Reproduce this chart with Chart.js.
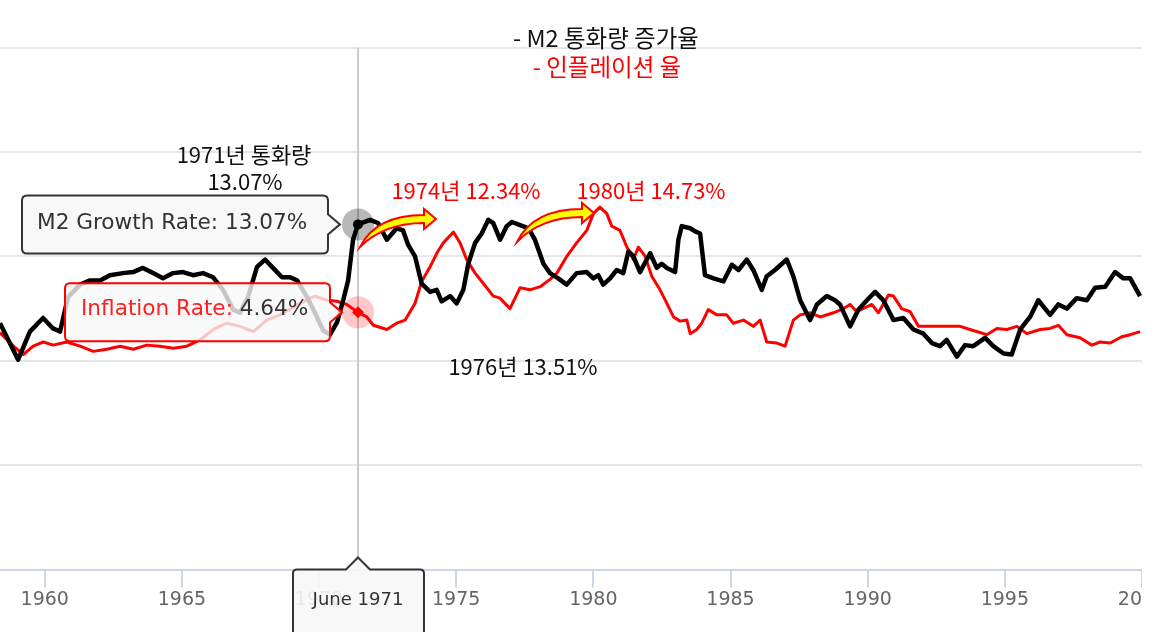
<!DOCTYPE html>
<html>
<head>
<meta charset="utf-8">
<script src="https://cdn.jsdelivr.net/npm/chart.js@4"></script>
<style>
html, body { margin: 0; padding: 0; background: #fff; overflow: hidden; }
#wrap { position: relative; width: 1142px; height: 632px; }
</style>
</head>
<body>
<div id="wrap"><canvas id="myChart"></canvas></div>
<script>
// M2 money supply growth, % year over year
var m2Years = [1958.37, 1959.03, 1959.46, 1959.94, 1960.30, 1960.56, 1960.85, 1961.29, 1961.65, 1962.02,
    1962.38, 1962.85, 1963.22, 1963.58, 1963.95, 1964.31, 1964.68, 1965.04, 1965.41, 1965.77,
    1966.14, 1966.50, 1966.87, 1967.12, 1967.41, 1967.74, 1968.03, 1968.32, 1968.65, 1968.94,
    1969.20, 1969.56, 1969.85, 1970.15, 1970.40, 1970.66, 1970.88, 1971.06, 1971.24, 1971.42,
    1971.86, 1972.15, 1972.47, 1972.83, 1973.06, 1973.25, 1973.50, 1973.74, 1974.05, 1974.29,
    1974.47, 1974.78, 1975.02, 1975.26, 1975.44, 1975.69, 1975.93, 1976.17, 1976.35, 1976.60,
    1976.84, 1977.03, 1977.33, 1977.63, 1977.87, 1978.18, 1978.42, 1978.72, 1979.03, 1979.39,
    1979.76, 1980.00, 1980.18, 1980.36, 1980.61, 1980.85, 1981.09, 1981.28, 1981.46, 1981.70,
    1982.07, 1982.31, 1982.49, 1982.68, 1982.98, 1983.10, 1983.22, 1983.53, 1983.71, 1983.89,
    1984.07, 1984.38, 1984.74, 1985.05, 1985.29, 1985.59, 1985.83, 1986.14, 1986.32, 1986.62,
    1987.05, 1987.29, 1987.54, 1987.90, 1988.15, 1988.51, 1988.81, 1988.99, 1989.36, 1989.66,
    1989.97, 1990.27, 1990.57, 1990.94, 1991.30, 1991.67, 1992.03, 1992.34, 1992.64, 1992.88,
    1993.25, 1993.55, 1993.85, 1994.28, 1994.58, 1994.95, 1995.25, 1995.56, 1995.92, 1996.22,
    1996.65, 1996.95, 1997.26, 1997.62, 1997.99, 1998.29, 1998.66, 1999.02, 1999.32, 1999.57,
    1999.93];
var m2Rates = [3.6, 0.1, 2.8, 4.1, 3.1, 2.8, 6.1, 7.3, 7.7, 7.7,
    8.2, 8.4, 8.5, 8.9, 8.4, 7.9, 8.4, 8.5, 8.2, 8.4,
    8.0, 6.8, 4.9, 4.6, 6.1, 9.0, 9.7, 8.9, 8.0, 8.0,
    7.7, 6.1, 4.6, 2.9, 2.5, 3.7, 5.8, 7.7, 11.6, 13.07,
    13.5, 13.2, 11.6, 12.7, 12.5, 11.1, 10.0, 7.4, 6.6, 6.8,
    5.7, 6.2, 5.5, 6.8, 9.3, 11.3, 12.2, 13.51, 13.2, 11.6,
    12.9, 13.3, 13.0, 12.7, 11.6, 9.3, 8.4, 7.9, 7.3, 8.4,
    8.5, 7.9, 8.2, 7.3, 7.9, 8.7, 8.4, 10.5, 10.0, 8.5,
    10.3, 8.9, 9.3, 8.9, 8.5, 11.6, 12.9, 12.7, 12.4, 12.2,
    8.2, 7.9, 7.6, 9.2, 8.7, 9.7, 8.7, 6.8, 8.1, 8.7,
    9.7, 8.1, 5.8, 3.9, 5.4, 6.2, 5.8, 5.4, 3.3, 4.9,
    5.8, 6.6, 5.8, 3.9, 4.1, 3.0, 2.6, 1.7, 1.4, 2.0,
    0.4, 1.5, 1.4, 2.2, 1.4, 0.7, 0.6, 3.0, 4.2, 5.8,
    4.4, 5.4, 5.0, 6.0, 5.8, 7.0, 7.1, 8.5, 7.9, 7.9,
    6.2];

// CPI inflation, % year over year
var cpiYears = [1958.37, 1958.86, 1959.22, 1959.58, 1959.95, 1960.31, 1960.80, 1961.29, 1961.77, 1962.26,
    1962.75, 1963.23, 1963.72, 1964.20, 1964.69, 1965.18, 1965.66, 1966.15, 1966.64, 1967.12,
    1967.61, 1968.09, 1968.58, 1969.31, 1969.85, 1970.28, 1970.65, 1971.01, 1971.42, 1971.74,
    1971.98, 1972.47, 1972.83, 1973.14, 1973.50, 1973.74, 1974.05, 1974.29, 1974.53, 1974.90,
    1975.14, 1975.38, 1975.69, 1975.99, 1976.35, 1976.60, 1976.96, 1977.33, 1977.69, 1978.06,
    1978.42, 1978.67, 1979.03, 1979.39, 1979.76, 1980.00, 1980.24, 1980.49, 1980.67, 1980.97,
    1981.22, 1981.46, 1981.64, 1981.89, 1982.13, 1982.43, 1982.68, 1982.92, 1983.16, 1983.41,
    1983.53, 1983.77, 1983.95, 1984.19, 1984.50, 1984.86, 1985.10, 1985.47, 1985.83, 1986.08,
    1986.32, 1986.69, 1986.99, 1987.29, 1987.54, 1987.90, 1988.27, 1988.75, 1989.12, 1989.36,
    1989.60, 1990.15, 1990.39, 1990.76, 1990.94, 1991.24, 1991.55, 1991.85, 1992.16, 1992.76,
    1993.37, 1993.73, 1994.34, 1994.71, 1995.07, 1995.44, 1995.80, 1996.29, 1996.65, 1996.95,
    1997.26, 1997.74, 1998.17, 1998.47, 1998.84, 1999.26, 1999.57, 1999.93];
var cpiRates = [2.7, 1.4, 0.6, 1.4, 1.8, 1.5, 1.8, 1.4, 0.9, 1.1,
    1.4, 1.1, 1.5, 1.4, 1.2, 1.4, 2.0, 3.0, 3.6, 3.3,
    2.8, 3.9, 4.4, 5.5, 6.2, 5.8, 5.7, 5.4, 4.64, 4.2,
    3.4, 3.0, 3.6, 3.9, 5.5, 7.6, 9.0, 10.3, 11.3, 12.34,
    11.3, 9.7, 8.4, 7.4, 6.2, 6.0, 5.0, 7.0, 6.8, 7.1,
    7.8, 8.4, 10.0, 11.3, 12.5, 14.1, 14.73, 14.1, 12.9, 12.5,
    10.9, 9.7, 10.9, 10.0, 8.1, 6.8, 5.5, 4.2, 3.8, 3.9,
    2.6, 3.0, 3.6, 4.9, 4.4, 4.4, 3.6, 3.9, 3.3, 3.9,
    1.8, 1.7, 1.4, 3.9, 4.4, 4.6, 4.2, 4.6, 5.0, 5.4,
    4.7, 5.4, 4.6, 6.3, 6.2, 5.0, 4.7, 3.3, 3.3, 3.3,
    3.3, 3.0, 2.5, 3.1, 3.0, 3.3, 2.6, 3.0, 3.1, 3.4,
    2.5, 2.2, 1.5, 1.8, 1.7, 2.3, 2.5, 2.8];

var xTickYears = [1960, 1965, 1970, 1975, 1980, 1985, 1990, 1995, 2000];
var yTickValues = [-20, -10, 0, 10, 20, 30];

// hovered point (June 1971)
var hoverYear = 1971.42;
var hoverLabel = 'June 1971';
var m2Hover = 13.07;
var cpiHover = 4.64;

function pts(xs, ys) {
    return xs.map(function (x, i) { return { x: x, y: ys[i] }; });
}

function rightTipBox(c, x0, y0, x1, y1, tx, ty, r) {
    c.beginPath();
    c.moveTo(x0 + r, y0);
    c.lineTo(x1 - r, y0);
    c.quadraticCurveTo(x1, y0, x1, y0 + r);
    c.lineTo(x1, ty - 10);
    c.lineTo(tx, ty);
    c.lineTo(x1, ty + 10);
    c.lineTo(x1, y1 - r);
    c.quadraticCurveTo(x1, y1, x1 - r, y1);
    c.lineTo(x0 + r, y1);
    c.quadraticCurveTo(x0, y1, x0, y1 - r);
    c.lineTo(x0, y0 + r);
    c.quadraticCurveTo(x0, y0, x0 + r, y0);
    c.closePath();
}

function topTipBox(c, x0, y0, x1, y1, tx, ty, r) {
    c.beginPath();
    c.moveTo(x0 + r, y0);
    c.lineTo(tx - 12, y0);
    c.lineTo(tx, ty);
    c.lineTo(tx + 12, y0);
    c.lineTo(x1 - r, y0);
    c.quadraticCurveTo(x1, y0, x1, y0 + r);
    c.lineTo(x1, y1);
    c.lineTo(x0, y1);
    c.lineTo(x0, y0 + r);
    c.quadraticCurveTo(x0, y0, x0 + r, y0);
    c.closePath();
}

function curvedArrow(c, tail, tip) {
    var bx = tip.x - 12;
    c.beginPath();
    c.moveTo(tail.x, tail.y);
    c.quadraticCurveTo(tail.x + 16, tip.y - 4, bx, tip.y - 4);
    c.lineTo(bx, tip.y - 10);
    c.lineTo(tip.x, tip.y);
    c.lineTo(bx, tip.y + 10);
    c.lineTo(bx, tip.y + 4);
    c.quadraticCurveTo(tail.x + 24, tip.y + 4, tail.x, tail.y);
    c.closePath();
    c.fillStyle = '#ffff00';
    c.fill();
    c.strokeStyle = '#ff0000';
    c.lineWidth = 2;
    c.stroke();
}

var overlay = {
    id: 'overlay',
    beforeDatasetsDraw: function (chart) {
        var c = chart.ctx, a = chart.chartArea;
        var x = chart.scales.x.getPixelForValue(hoverYear);
        c.save();
        c.strokeStyle = '#cccccc';
        c.lineWidth = 2;
        c.beginPath();
        c.moveTo(x, a.top);
        c.lineTo(x, a.bottom);
        c.stroke();
        c.restore();
    },
    afterDraw: function (chart) {
        var c = chart.ctx, a = chart.chartArea;
        var mx = chart.scales.x.getPixelForValue(hoverYear);
        var m2y = chart.scales.y.getPixelForValue(m2Hover);
        var cpy = chart.scales.y.getPixelForValue(cpiHover);
        c.save();

        // arrows
        curvedArrow(c, { x: 360, y: 247 }, { x: 436, y: 219 });
        curvedArrow(c, { x: 517, y: 242 }, { x: 594, y: 213 });

        // M2 tooltip
        c.textBaseline = 'middle';
        c.textAlign = 'left';
        c.font = '21.6px "DejaVu Sans"';
        rightTipBox(c, 22, m2y - 29, mx - 30, m2y + 29, mx - 18, m2y, 5);
        c.fillStyle = 'rgba(247,247,247,0.85)';
        c.fill();
        c.strokeStyle = '#333333';
        c.lineWidth = 2;
        c.stroke();
        c.fillStyle = '#333333';
        c.fillText('M2 Growth Rate: ' + m2Hover.toFixed(2) + '%', 37, m2y - 1);

        // inflation tooltip
        rightTipBox(c, 65, cpy - 29, mx - 28, cpy + 29, mx - 16, cpy, 5);
        c.fillStyle = 'rgba(247,247,247,0.8)';
        c.fill();
        c.strokeStyle = '#ff0000';
        c.stroke();
        var lab = 'Inflation Rate: ';
        c.fillStyle = '#ff2020';
        c.fillText(lab, 81, cpy - 3);
        var w = c.measureText(lab).width;
        c.fillStyle = '#333333';
        c.fillText(cpiHover.toFixed(2) + '%', 81 + w, cpy - 3);

        // x-axis hover label
        topTipBox(c, mx - 65, a.bottom, mx + 66, a.bottom + 80, mx, a.bottom - 12, 4);
        c.fillStyle = 'rgba(247,247,247,0.9)';
        c.fill();
        c.strokeStyle = '#333333';
        c.stroke();
        c.fillStyle = '#333333';
        c.textAlign = 'center';
        c.font = '18px "DejaVu Sans"';
        c.fillText(hoverLabel, mx, a.bottom + 31);

        // annotations
        var kr = '"Noto Sans CJK KR", sans-serif';
        c.font = '23.5px ' + kr;
        c.fillStyle = '#111111';
        c.fillText('- M2 통화량 증가율', 606, 38);
        c.fillStyle = '#ff0000';
        c.fillText('- 인플레이션 율', 607, 67);
        c.font = '22px ' + kr;
        c.fillStyle = '#111111';
        c.fillText('1971년 통화량', 244, 155);
        c.fillText('13.07%', 245, 182);
        c.fillText('1976년 13.51%', 523, 367);
        c.fillStyle = '#ff0000';
        c.fillText('1974년 12.34%', 466, 191);
        c.fillText('1980년 14.73%', 651, 191);
        c.restore();
    }
};

var ctx = document.getElementById('myChart').getContext('2d');
var myChart = new Chart(ctx, {
    type: 'line',
    data: {
        datasets: [
            {
                label: 'M2 Growth Rate',
                data: pts(m2Years, m2Rates),
                borderColor: '#000000',
                borderWidth: 4.5,
                pointRadius: 0,
                borderJoinStyle: 'round',
                order: 2
            },
            {
                label: 'Inflation Rate',
                data: pts(cpiYears, cpiRates),
                borderColor: '#ff0000',
                borderWidth: 3,
                pointRadius: 0,
                borderJoinStyle: 'round',
                order: 3
            },
            {
                data: [{ x: hoverYear, y: m2Hover }],
                showLine: false,
                pointRadius: 16,
                pointBorderWidth: 0,
                pointBackgroundColor: 'rgba(0,0,0,0.28)',
                order: 1
            },
            {
                data: [{ x: hoverYear, y: cpiHover }],
                showLine: false,
                pointRadius: 16,
                pointBorderWidth: 0,
                pointBackgroundColor: 'rgba(255,0,0,0.22)',
                order: 1
            },
            {
                data: [{ x: hoverYear, y: m2Hover }],
                showLine: false,
                pointRadius: 5,
                pointBorderWidth: 0,
                pointBackgroundColor: '#000000',
                order: 0
            },
            {
                data: [{ x: hoverYear, y: cpiHover }],
                showLine: false,
                pointStyle: 'rectRot',
                pointRadius: 6,
                pointBorderWidth: 0,
                pointBackgroundColor: '#ff0000',
                order: 0
            }
        ]
    },
    plugins: [overlay],
    options: {
        responsive: true,
        maintainAspectRatio: false,
        animation: false,
        events: [],
        layout: { autoPadding: false, padding: { top: 47.7, left: 0, right: 0, bottom: 0 } },
        plugins: {
            legend: { display: false },
            title: { display: false },
            tooltip: { enabled: false }
        },
        scales: {
            x: {
                type: 'linear',
                min: 1958.37,
                max: 2000,
                afterBuildTicks: function (s) {
                    s.ticks = xTickYears.map(function (v) { return { value: v }; });
                },
                afterFit: function (s) {
                    s.paddingLeft = 0;
                    s.paddingRight = 0;
                    s.height = 62.5;
                },
                ticks: {
                    padding: 1,
                    maxRotation: 0,
                    color: '#666666',
                    font: { family: 'DejaVu Sans', size: 19 },
                    callback: function (v) { return String(v); }
                },
                grid: {
                    drawOnChartArea: false,
                    color: '#ccd6eb',
                    lineWidth: 2,
                    tickLength: 18
                },
                border: { color: '#ccd6eb', width: 2 }
            },
            y: {
                min: -20,
                max: 30,
                afterBuildTicks: function (s) {
                    s.ticks = yTickValues.map(function (v) { return { value: v }; });
                },
                afterFit: function (s) { s.width = 0; },
                ticks: { display: false },
                grid: { color: '#e6e6e6', lineWidth: 2, drawTicks: false },
                border: { display: false }
            }
        }
    }
});
</script>
</body>
</html>
